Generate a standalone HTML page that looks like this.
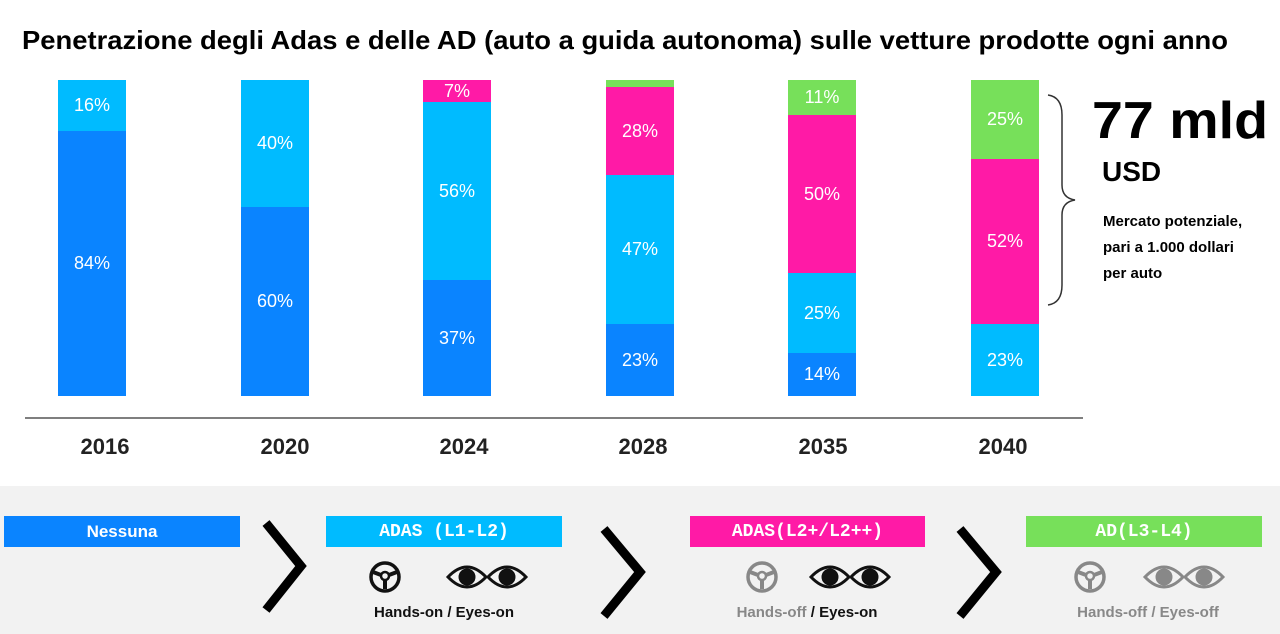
<!DOCTYPE html>
<html><head><style>
body{margin:0;width:1280px;height:634px;background:#fff;overflow:hidden;font-family:"Liberation Sans",sans-serif;position:relative}
.a{position:absolute}
.seg{position:absolute;color:#fff;font-size:18px;display:flex;align-items:center;justify-content:center}
.yr{position:absolute;top:434px;width:100px;text-align:center;font-weight:bold;font-size:22px;color:#222}
.box{position:absolute;top:516px;height:31px;color:#fff;font-weight:bold;font-size:17px;display:flex;align-items:center;justify-content:center}
.mono{font-family:'Liberation Mono',monospace;font-size:18px}
.lab{position:absolute;top:604px;font-weight:bold;font-size:15px;text-align:center;width:236px}
</style></head><body>
<svg class="a" style="left:0;top:0" width="1280" height="634">
<text x="22" y="49" font-size="26" font-weight="bold" textLength="1206" lengthAdjust="spacingAndGlyphs" fill="#000">Penetrazione degli Adas e delle AD (auto a guida autonoma) sulle vetture prodotte ogni anno</text>
<line x1="25" y1="418" x2="1083" y2="418" stroke="#555" stroke-width="1.5"/>
<path d="M1048 95 Q1062 97 1062 115 L1062 185 Q1062 198 1075 200 Q1062 202 1062 215 L1062 285 Q1062 303 1048 305" fill="none" stroke="#333" stroke-width="1.5"/>
<rect x="0" y="486" width="1280" height="148" fill="#f2f2f2"/>
<g fill="none" stroke="#000" stroke-width="9">
<polyline points="266,523 301,566 266,610"/>
<polyline points="604,529 640,572 604,616"/>
<polyline points="960,529 996,572 960,616"/>
</g>
<text x="1092" y="138" font-size="52" font-weight="bold" textLength="176" lengthAdjust="spacingAndGlyphs">77 mld</text>
</svg>
<div class="a" style="left:1102px;top:156px;font-size:28px;font-weight:bold">USD</div>
<div class="a" style="left:1103px;top:209px;font-size:15px;font-weight:bold;line-height:26px">Mercato potenziale,<br>pari a 1.000 dollari<br>per auto</div>

<div class="seg" style="left:58px;width:68px;top:80px;height:51px;background:#00bbff">16%</div>
<div class="seg" style="left:58px;width:68px;top:131px;height:265px;background:#0a84ff">84%</div>
<div class="seg" style="left:241px;width:68px;top:80px;height:127px;background:#00bbff">40%</div>
<div class="seg" style="left:241px;width:68px;top:207px;height:189px;background:#0a84ff">60%</div>
<div class="seg" style="left:423px;width:68px;top:80px;height:22px;background:#ff1aa6">7%</div>
<div class="seg" style="left:423px;width:68px;top:102px;height:178px;background:#00bbff">56%</div>
<div class="seg" style="left:423px;width:68px;top:280px;height:116px;background:#0a84ff">37%</div>
<div class="seg" style="left:606px;width:68px;top:80px;height:7px;background:#77e05a"></div>
<div class="seg" style="left:606px;width:68px;top:87px;height:88px;background:#ff1aa6">28%</div>
<div class="seg" style="left:606px;width:68px;top:175px;height:149px;background:#00bbff">47%</div>
<div class="seg" style="left:606px;width:68px;top:324px;height:72px;background:#0a84ff">23%</div>
<div class="seg" style="left:788px;width:68px;top:80px;height:35px;background:#77e05a">11%</div>
<div class="seg" style="left:788px;width:68px;top:115px;height:158px;background:#ff1aa6">50%</div>
<div class="seg" style="left:788px;width:68px;top:273px;height:80px;background:#00bbff">25%</div>
<div class="seg" style="left:788px;width:68px;top:353px;height:43px;background:#0a84ff">14%</div>
<div class="seg" style="left:971px;width:68px;top:80px;height:79px;background:#77e05a">25%</div>
<div class="seg" style="left:971px;width:68px;top:159px;height:165px;background:#ff1aa6">52%</div>
<div class="seg" style="left:971px;width:68px;top:324px;height:72px;background:#00bbff">23%</div>

<div class="yr" style="left:55px">2016</div>
<div class="yr" style="left:235px">2020</div>
<div class="yr" style="left:414px">2024</div>
<div class="yr" style="left:593px">2028</div>
<div class="yr" style="left:773px">2035</div>
<div class="yr" style="left:953px">2040</div>

<div class="box" style="left:4px;width:236px;background:#0a84ff">Nessuna</div>
<div class="box mono" style="left:326px;width:236px;background:#00bbff">ADAS (L1-L2)</div>
<div class="box mono" style="left:690px;width:235px;background:#ff1aa6">ADAS(L2+/L2++)</div>
<div class="box mono" style="left:1026px;width:236px;background:#77e05a">AD(L3-L4)</div>

<svg class="a" style="left:0;top:555px" width="1280" height="45">
<defs>
<g id="w"><circle cx="0" cy="0" r="14" fill="none" stroke-width="3.5"/><circle cx="0" cy="-1" r="4" fill="none" stroke-width="2.5"/><path d="M-12 -5 L-4 -2 M12 -5 L4 -2 M0 3 L0 12" stroke-width="4"/></g>
<g id="e"><path d="M-19 0 Q0 -20 19 0 Q0 20 -19 0Z" fill="none" stroke-width="3"/><circle cx="0" cy="0" r="8"/></g>
</defs>
<use href="#w" x="385" y="22" stroke="#111"/>
<g fill="#111" stroke="#111"><use href="#e" x="467" y="22"/><use href="#e" x="507" y="22"/></g>
<use href="#w" x="762" y="22" stroke="#888"/>
<g fill="#111" stroke="#111"><use href="#e" x="830" y="22"/><use href="#e" x="870" y="22"/></g>
<use href="#w" x="1090" y="22" stroke="#888"/>
<g fill="#888" stroke="#888"><use href="#e" x="1164" y="22"/><use href="#e" x="1204" y="22"/></g>
</svg>
<div class="lab" style="left:326px;color:#111">Hands-on / Eyes-on</div>
<div class="lab" style="left:689px;color:#111"><span style="color:#888">Hands-off</span> / Eyes-on</div>
<div class="lab" style="left:1030px;color:#888">Hands-off / Eyes-off</div>
</body></html>
